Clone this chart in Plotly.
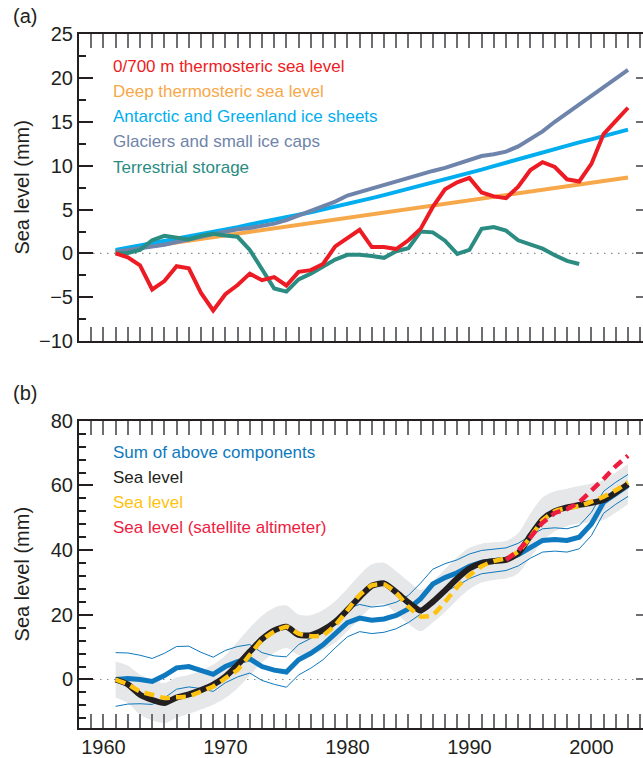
import plotly.graph_objects as go

# ---------------- panel (a): sea level components (mm) ----------------
years_a = list(range(1961, 2004))
thermo_700 = [0.0, -0.45, -1.35, -4.1, -3.15, -1.45, -1.7, -4.5, -6.5, -4.65,
              -3.6, -2.3, -3.05, -2.7, -3.65, -2.1, -1.9, -1.2, 0.8, 1.75,
              2.7, 0.73, 0.73, 0.5, 1.5, 2.8, 5.3, 7.3, 8.1, 8.6,
              6.95, 6.5, 6.3, 7.6, 9.5, 10.4, 9.85, 8.45, 8.2, 10.2,
              13.6, 15.1, 16.6]
deep_thermo = [0.25, 0.45, 0.65, 0.85, 1.05, 1.25, 1.45, 1.65, 1.85, 2.05,
               2.25, 2.45, 2.65, 2.85, 3.05, 3.25, 3.45, 3.65, 3.85, 4.05,
               4.25, 4.45, 4.65, 4.85, 5.05, 5.25, 5.45, 5.65, 5.85, 6.05,
               6.25, 6.45, 6.65, 6.85, 7.05, 7.25, 7.45, 7.65, 7.85, 8.05,
               8.25, 8.45, 8.65]
ice_sheets = [0.4, 0.65, 0.9, 1.15, 1.4, 1.7, 1.95, 2.2, 2.5, 2.75,
              3.0, 3.3, 3.55, 3.85, 4.1, 4.4, 4.7, 5.0, 5.3, 5.6,
              5.95, 6.3, 6.65, 7.0, 7.35, 7.7, 8.05, 8.4, 8.8, 9.2,
              9.55, 9.95, 10.35, 10.7, 11.1, 11.5, 11.85, 12.25, 12.65, 13.0,
              13.4, 13.75, 14.1]
glaciers = [0.2, 0.4, 0.55, 0.8, 1.0, 1.3, 1.55, 1.9, 2.2, 2.5,
            2.75, 2.9, 3.1, 3.4, 3.8, 4.3, 4.8, 5.3, 5.9, 6.6,
            7.0, 7.5, 7.9, 8.3, 8.7, 9.1, 9.4, 9.75, 10.2, 10.7,
            11.1, 11.3, 11.6, 12.2, 13.0, 13.9, 15.0, 16.0, 17.0, 18.0,
            19.0, 20.0, 20.9]
years_terr = list(range(1961, 2000))
terrestrial = [0.0, 0.05, 0.4, 1.5, 2.0, 1.8, 1.6, 2.0, 2.25, 2.05,
               1.9, 0.4, -1.9, -4.0, -4.35, -2.95, -2.3, -1.5, -0.7, -0.15,
               -0.15, -0.3, -0.5, 0.25, 0.6, 2.5, 2.4, 1.45, -0.05, 0.4,
               2.8, 3.0, 2.6, 1.5, 1.0, 0.55, -0.2, -0.85, -1.2]

# ---------------- panel (b): total sea level (mm) ----------------
years_b = list(range(1961, 2004))
sum_components = [0.0, 0.3, 0.0, -0.6, 1.2, 3.6, 4.0, 2.8, 1.6, 4.0,
                  5.5, 6.4, 4.0, 2.9, 2.3, 6.1, 8.1, 10.7, 14.3, 17.6,
                  19.0, 18.3, 18.7, 19.8, 21.8, 25.0, 29.5, 31.5, 33.0, 35.0,
                  36.3, 36.8, 37.2, 38.6, 41.0, 43.0, 43.3, 43.0, 44.0, 48.1,
                  54.8, 57.6, 60.0]
sum_err = [8.3, 7.9, 7.5, 7.1, 6.9, 6.6, 6.3, 5.6, 5.3, 5.0,
           4.7, 4.4, 4.3, 4.4, 4.7, 4.7, 4.6, 4.6, 4.5, 4.4,
           4.2, 4.1, 4.1, 4.1, 4.2, 4.8, 4.6, 4.3, 4.0, 3.8,
           3.6, 3.5, 3.5, 3.5, 3.5, 3.6, 3.6, 3.6, 3.6, 3.6,
           3.4, 3.4, 3.4]
sea_level_black = [0.0, -1.5, -4.7, -6.3, -7.3, -5.6, -4.6, -3.3, -1.6, 0.9,
                   4.5, 8.6, 12.5, 15.2, 16.3, 13.8, 13.7, 15.3, 17.8, 21.5,
                   25.5, 29.0, 29.7, 27.0, 23.8, 21.3, 24.0, 27.5, 31.2, 34.3,
                   36.0, 36.6, 37.0, 39.0, 44.5, 49.5, 52.0, 53.2, 54.0, 54.6,
                   55.5, 57.8, 60.4]
sea_level_err = [5.6, 5.8, 6.2, 6.3, 6.2, 6.2, 6.0, 6.0, 6.2, 6.6,
                 7.2, 7.4, 7.2, 7.0, 6.6, 6.3, 6.2, 6.2, 6.4, 6.6,
                 6.8, 6.6, 6.4, 6.5, 6.6, 6.4, 6.4, 6.6, 6.6, 6.4,
                 6.0, 5.8, 5.8, 6.2, 6.8, 6.8, 6.2, 5.8, 5.8, 6.0,
                 6.2, 6.2, 6.2]
sea_level_yellow = [0.0, -1.5, -3.7, -4.7, -5.7, -5.5, -5.2, -3.7, -2.2, 0.4,
                    3.0, 7.6, 12.2, 14.8, 16.3, 14.2, 13.4, 13.7, 16.8, 21.4,
                    26.1, 29.1, 29.4, 26.8, 22.5, 19.5, 20.0, 24.0, 28.6, 32.2,
                    35.0, 36.6, 37.5, 39.5, 44.0, 49.2, 52.0, 53.0, 53.6, 55.0,
                    56.5, 58.5, 61.0]
years_sat = list(range(1993, 2004))
sea_level_sat = [37.0, 39.8, 44.0, 48.5, 51.5, 52.7, 54.8, 58.2, 62.0, 66.0, 69.2]

# axis ticks and labels
year_ticks = [1960, 1965, 1970, 1975, 1980, 1985, 1990, 1995, 2000]
year_labels = ["1960", "", "1970", "", "1980", "", "1990", "", "2000"]
ticks_a = [-10, -5, 0, 5, 10, 15, 20, 25]
ticks_b = [0, 20, 40, 60, 80]

legend_a = [("0/700 m thermosteric sea level", "#ED1C24"),
            ("Deep thermosteric sea level", "#F7A84A"),
            ("Antarctic and Greenland ice sheets", "#00AEEF"),
            ("Glaciers and small ice caps", "#6F84AA"),
            ("Terrestrial storage", "#2B8C82")]
legend_b = [("Sum of above components", "#0E79BE"),
            ("Sea level", "#231F20"),
            ("Sea level", "#FFC20E"),
            ("Sea level (satellite altimeter)", "#EE1C3F")]

FONT = "Liberation Sans, Arial, sans-serif"
INK = "#231F20"
TICKGRAY = "#6D6E71"
BAND = "#E6E7E8"

# figure geometry (pixels)
W, H = 643, 758
ML, MR, MT, MB = 79, 0, 34, 26
PH = H - MT - MB
PW = W - ML - MR
A_TOP, A_BOT = 34, 343
B_TOP, B_BOT = 423, 732


def py(ypx):
    return (H - MB - ypx) / PH


def px(xpx):
    return (xpx - ML) / PW


fig = go.Figure()

# ---- panel (a) traces ----
fig.add_trace(go.Scatter(x=years_a, y=deep_thermo, mode="lines",
                         line=dict(color=legend_a[1][1], width=4), xaxis="x", yaxis="y"))
fig.add_trace(go.Scatter(x=years_a, y=ice_sheets, mode="lines",
                         line=dict(color=legend_a[2][1], width=4), xaxis="x", yaxis="y"))
fig.add_trace(go.Scatter(x=years_a, y=glaciers, mode="lines",
                         line=dict(color=legend_a[3][1], width=4), xaxis="x", yaxis="y"))
fig.add_trace(go.Scatter(x=years_terr, y=terrestrial, mode="lines",
                         line=dict(color=legend_a[4][1], width=4), xaxis="x", yaxis="y"))
fig.add_trace(go.Scatter(x=years_a, y=thermo_700, mode="lines",
                         line=dict(color=legend_a[0][1], width=4), xaxis="x", yaxis="y"))

# ---- panel (b) traces ----
band_hi = [v + e for v, e in zip(sea_level_black, sea_level_err)]
band_lo = [v - e for v, e in zip(sea_level_black, sea_level_err)]
fig.add_trace(go.Scatter(x=years_b, y=band_lo, mode="lines",
                         line=dict(color=BAND, width=0, shape="spline", smoothing=0.8),
                         xaxis="x2", yaxis="y2"))
fig.add_trace(go.Scatter(x=years_b, y=band_hi, mode="lines", fill="tonexty", fillcolor=BAND,
                         line=dict(color=BAND, width=0, shape="spline", smoothing=0.8),
                         xaxis="x2", yaxis="y2"))

sum_hi = [v + e for v, e in zip(sum_components, sum_err)]
sum_lo = [v - e for v, e in zip(sum_components, sum_err)]
for series in (sum_hi, sum_lo):
    fig.add_trace(go.Scatter(x=years_b, y=series, mode="lines",
                             line=dict(color=legend_b[0][1], width=1),
                             xaxis="x2", yaxis="y2"))
fig.add_trace(go.Scatter(x=years_b, y=sum_components, mode="lines",
                         line=dict(color=legend_b[0][1], width=5),
                         xaxis="x2", yaxis="y2"))
fig.add_trace(go.Scatter(x=years_b, y=sea_level_black, mode="lines",
                         line=dict(color=legend_b[1][1], width=6, shape="spline", smoothing=0.6),
                         xaxis="x2", yaxis="y2"))
fig.add_trace(go.Scatter(x=years_b, y=sea_level_yellow, mode="lines",
                         line=dict(color=legend_b[2][1], width=4.5, dash="10px,6px",
                                   shape="spline", smoothing=0.6),
                         xaxis="x2", yaxis="y2"))
fig.add_trace(go.Scatter(x=years_sat, y=sea_level_sat, mode="lines",
                         line=dict(color=legend_b[3][1], width=4.5, dash="10px,6px"),
                         xaxis="x2", yaxis="y2"))

# empty traces so the right-hand tick axes are drawn
fig.add_trace(go.Scatter(x=[], y=[], xaxis="x", yaxis="y3"))
fig.add_trace(go.Scatter(x=[], y=[], xaxis="x2", yaxis="y4"))

xcommon = dict(range=[1958, 1958 + PW / 12.2], tickmode="array", tickvals=year_ticks,
               ticks="inside", ticklen=14, tickwidth=1.5, tickcolor=TICKGRAY,
               minor=dict(dtick=1, tick0=1958, ticks="inside", ticklen=7,
                          tickwidth=1.5, tickcolor=TICKGRAY),
               showline=True, linecolor=INK, linewidth=2, mirror="allticks",
               showgrid=False, zeroline=False, fixedrange=True,
               tickfont=dict(family=FONT, size=20, color=INK))

fig.update_layout(
    width=W, height=H,
    margin=dict(l=ML, r=MR, t=MT, b=MB),
    paper_bgcolor="white", plot_bgcolor="white",
    showlegend=False,
    xaxis=dict(xcommon, domain=[0, 1], anchor="y", ticktext=[""] * len(year_ticks)),
    xaxis2=dict(xcommon, domain=[0, 1], anchor="y2", ticktext=year_labels),
    yaxis=dict(domain=[py(A_BOT), py(A_TOP)], anchor="x", range=[-10, 25],
               tickmode="array", tickvals=ticks_a,
               ticks="inside", ticklen=14, tickwidth=1.5, tickcolor=INK,
               minor=dict(dtick=2.5, tick0=0, ticks="inside", ticklen=7,
                          tickwidth=1.5, tickcolor=INK),
               showline=True, linecolor=INK, linewidth=2,
               showgrid=False, zeroline=False,
               tickfont=dict(family=FONT, size=20, color=INK)),
    yaxis2=dict(domain=[py(B_BOT), py(B_TOP)], anchor="x2", range=[-15, 80],
                tickmode="array", tickvals=ticks_b,
                ticks="inside", ticklen=14, tickwidth=1.5, tickcolor=INK,
                minor=dict(dtick=4, tick0=0, ticks="inside", ticklen=7,
                           tickwidth=1.5, tickcolor=INK),
                showline=True, linecolor=INK, linewidth=2,
                showgrid=False, zeroline=False,
                tickfont=dict(family=FONT, size=20, color=INK)),
    yaxis3=dict(overlaying="y", anchor="x", side="right", range=[-10, 25],
                tickmode="array", tickvals=ticks_a, ticks="inside", ticklen=7,
                tickwidth=1.5, tickcolor=TICKGRAY, showticklabels=False,
                showline=False, showgrid=False, zeroline=False),
    yaxis4=dict(overlaying="y2", anchor="x2", side="right", range=[-15, 80],
                tickmode="array", tickvals=ticks_b, ticks="inside", ticklen=7,
                tickwidth=1.5, tickcolor=TICKGRAY, showticklabels=False,
                showline=False, showgrid=False, zeroline=False),
)

# dotted zero lines
for yref in ("y", "y2"):
    fig.add_shape(type="line", xref="paper", x0=0, x1=1, yref=yref, y0=0, y1=0,
                  line=dict(color="#8A8C8E", width=1.2, dash="1.5px,5.5px"), layer="below")

annotations = []
# panel labels
annotations.append(dict(text="(a)", xref="paper", yref="paper", x=px(11), y=py(16),
                        xanchor="left", yanchor="middle", showarrow=False,
                        font=dict(family=FONT, size=20, color=INK)))
annotations.append(dict(text="(b)", xref="paper", yref="paper", x=px(11), y=py(395),
                        xanchor="left", yanchor="middle", showarrow=False,
                        font=dict(family=FONT, size=20, color=INK)))
# axis titles
for yc in ((A_TOP + A_BOT) / 2, (B_TOP + B_BOT) / 2):
    annotations.append(dict(text="Sea level (mm)", xref="paper", yref="paper",
                            x=px(22), y=py(yc), xanchor="center", yanchor="middle",
                            textangle=-90, showarrow=False,
                            font=dict(family=FONT, size=20, color=INK)))
# legend texts
rows_a = [66.5, 91.5, 117, 142.5, 168]
for (label, color), yr in zip(legend_a, rows_a):
    annotations.append(dict(text=label, xref="paper", yref="paper", x=px(111), y=py(yr),
                            xanchor="left", yanchor="middle", showarrow=False,
                            font=dict(family=FONT, size=17, color=color)))
rows_b = [455, 480, 505.5, 530.5]
for (label, color), yr in zip(legend_b, rows_b):
    annotations.append(dict(text=label, xref="paper", yref="paper", x=px(111), y=py(yr),
                            xanchor="left", yanchor="middle", showarrow=False,
                            font=dict(family=FONT, size=17, color=color)))
fig.update_layout(annotations=annotations)

fig.write_html("out.html", config={"displayModeBar": False})
